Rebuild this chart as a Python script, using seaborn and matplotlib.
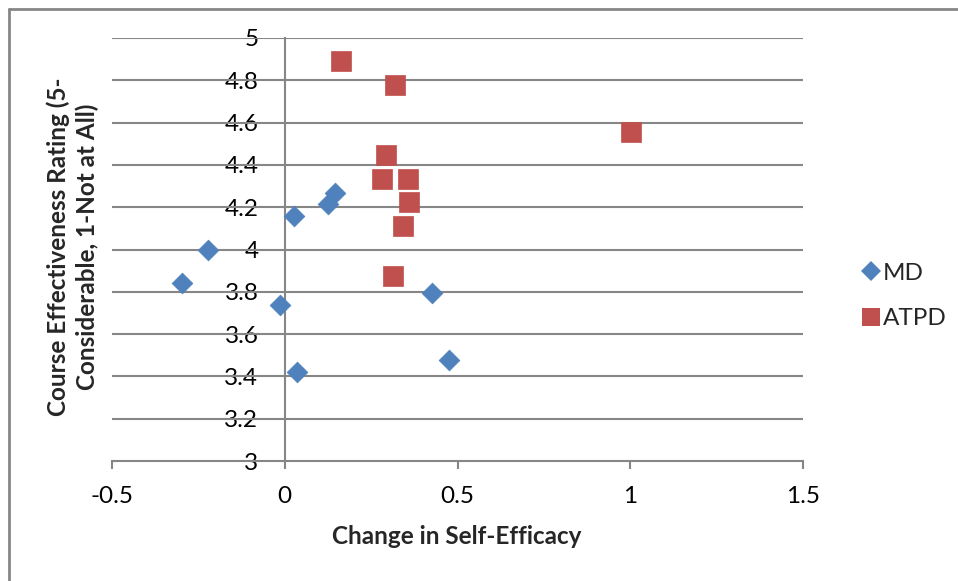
import matplotlib
matplotlib.use("Agg")
import matplotlib.pyplot as plt
from matplotlib.lines import Line2D
import seaborn as sns
import pandas as pd

md_x = [0.145, 0.125, 0.027, -0.222, -0.297, -0.014, 0.426, 0.036, 0.475]
md_y = [4.265, 4.215, 4.158, 4.000, 3.842, 3.738, 3.794, 3.421, 3.478]
atpd_x = [0.163, 0.319, 1.002, 0.293, 0.282, 0.357, 0.360, 0.343, 0.314]
atpd_y = [4.891, 4.778, 4.556, 4.447, 4.333, 4.333, 4.225, 4.111, 3.875]
x_ticks = [-0.5, 0, 0.5, 1, 1.5]
x_tick_labels = ["-0.5", "0", "0.5", "1", "1.5"]
y_ticks = [3, 3.2, 3.4, 3.6, 3.8, 4, 4.2, 4.4, 4.6, 4.8, 5]
y_tick_labels = ["3", "3.2", "3.4", "3.6", "3.8", "4", "4.2", "4.4", "4.6", "4.8", "5"]

BLUE = "#4F81BD"
RED = "#C0504D"
GRID = "#868686"
FS = 17.5

sns.set_theme(style="white")
plt.rcParams["font.family"] = ["Lato", "DejaVu Sans"]

md_df = pd.DataFrame({"x": md_x, "y": md_y})
atpd_df = pd.DataFrame({"x": atpd_x, "y": atpd_y})

fig = plt.figure(figsize=(9.58, 5.81), dpi=100)
ax = fig.add_axes([112 / 958, 1 - 461 / 581, (803 - 112) / 958, (461 - 38) / 581])

sns.scatterplot(data=md_df, x="x", y="y", ax=ax, marker="D", s=112,
                color=BLUE, edgecolor=BLUE, linewidth=0.5, zorder=5, clip_on=False)
sns.scatterplot(data=atpd_df, x="x", y="y", ax=ax, marker="s", s=205,
                color=RED, edgecolor=RED, linewidth=0.5, zorder=5, clip_on=False)

ax.set_xlim(-0.5, 1.5)
ax.set_ylim(3, 5)
ax.set_xticks(x_ticks)
ax.set_xticklabels(x_tick_labels)
ax.set_yticks(y_ticks)
ax.set_yticklabels(y_tick_labels)
ax.set_xlabel("")
ax.set_ylabel("")

for yv in y_ticks[1:]:
    ax.axhline(yv, color=GRID, lw=1.5, zorder=1)

for s in ["top", "right"]:
    ax.spines[s].set_visible(False)
ax.spines["left"].set_position(("data", 0))
ax.spines["left"].set_color(GRID)
ax.spines["left"].set_linewidth(1.5)
ax.spines["bottom"].set_color(GRID)
ax.spines["bottom"].set_linewidth(1.5)

ax.tick_params(axis="x", direction="out", length=6, width=1.5, color=GRID,
               pad=12, labelsize=FS, labelcolor="black", bottom=True)
ax.tick_params(axis="y", length=0, pad=19, labelsize=FS, labelcolor="black", left=True)

fig.text(457 / 958, 1 - 536 / 581, "Change in Self-Efficacy", ha="center", va="center",
         fontsize=FS, fontweight="bold")
fig.text(73 / 958, 1 - 247 / 581, "Course Effectiveness Rating (5-\nConsiderable, 1-Not at All)",
         rotation=90, ha="center", va="center", multialignment="center",
         fontsize=FS, fontweight="bold", linespacing=1.3)

handles = [
    Line2D([], [], marker="D", color=BLUE, linestyle="none", markersize=10.5, markeredgewidth=0),
    Line2D([], [], marker="s", color=RED, linestyle="none", markersize=12.5, markeredgewidth=0),
]
fig.legend(handles, ["MD", "ATPD"], loc="center left", bbox_to_anchor=(862 / 958, 1 - 296 / 581),
           frameon=False, fontsize=FS, handlelength=0.7, handletextpad=0.15, labelspacing=1.0,
           borderpad=0, borderaxespad=0)

fig.add_artist(Line2D([9 / 958, 1], [1 - 9 / 581, 1 - 9 / 581], color=GRID, lw=2))
fig.add_artist(Line2D([9 / 958, 9 / 958], [0, 1 - 9 / 581], color=GRID, lw=2))

fig.savefig("out.png", dpi=100)
